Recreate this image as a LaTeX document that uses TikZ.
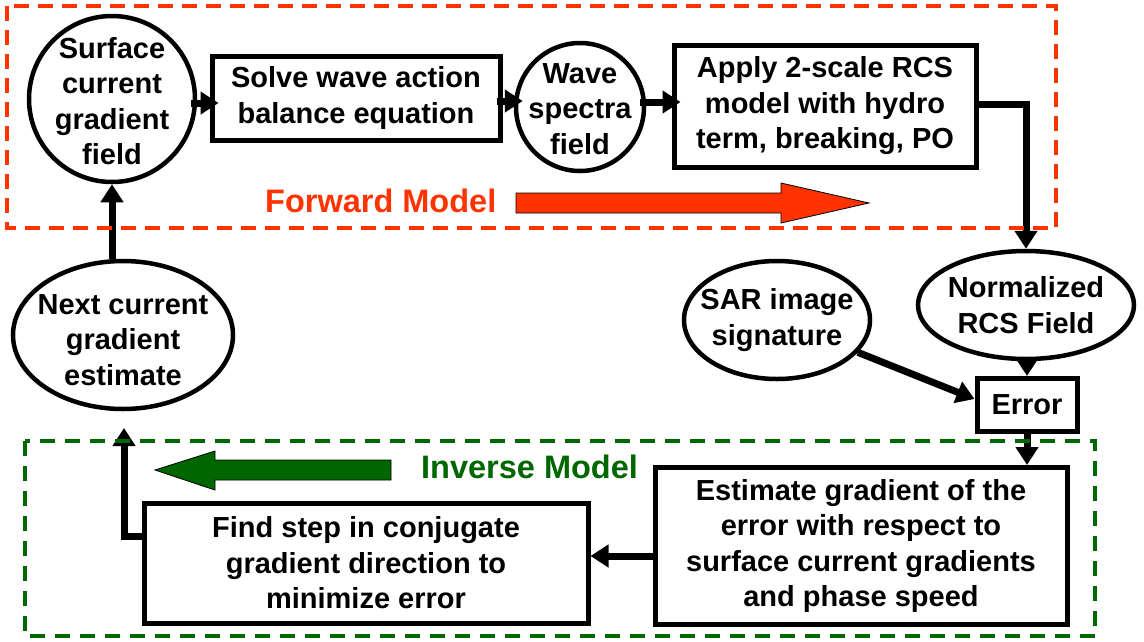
\documentclass[tikz,border=0pt]{standalone}
\usepackage{fontspec}
\setmainfont{Liberation Sans}
\usetikzlibrary{arrows.meta,shapes.geometric,calc}
\definecolor{fwd}{HTML}{FF3300}
\definecolor{inv}{HTML}{006600}
\begin{document}
\begin{tikzpicture}[x=1pt,y=-1pt,
  txt/.style={font=\fontsize{29}{35.5}\selectfont\bfseries, align=center, inner sep=0pt},
  box/.style={draw, line width=5pt, rectangle, inner sep=0pt, txt},
  roundnode/.style={draw, line width=4.5pt, ellipse, inner sep=0pt},
  conn/.style={line width=7pt, -{Triangle[length=18pt,width=22pt]}},
  stub/.style={conn, shorten >=-9pt, shorten <=-6pt},
  modellabel/.style={font=\fontsize{32.5}{38}\selectfont\bfseries, anchor=base west, inner sep=0pt},
  bigarrow/.style={line width=0.8pt, draw=black},
  region/.style={line width=3.5pt, dash pattern=on 15pt off 9pt}
]
\useasboundingbox (0,0) rectangle (1144,641);

% nodes
\node[roundnode, minimum width=166pt, minimum height=166pt] (surf) at (112,99) {};
\node[txt] (surft) at ([yshift=-2pt]surf.center) {Surface\\current\\gradient\\field};
\node[box, minimum width=288pt, minimum height=84pt] (solve) at (356,98) {Solve wave action\\balance equation};
\node[roundnode, minimum width=128pt, minimum height=128pt] (wave) at (580,107) {};
\node[txt] (wavet) at ([yshift=-2pt]wave.center) {Wave\\spectra\\field};
\node[box, minimum width=302pt, minimum height=122pt] (apply) at (825,106) {Apply 2-scale RCS\\model with hydro\\term, breaking, PO};
\node[roundnode, minimum width=216pt, minimum height=108pt] (norm) at (1026,305) {};
\node[txt] (normt) at (norm) {Normalized\\RCS Field};
\node[roundnode, minimum width=186pt, minimum height=118pt] (sar) at (777,320) {};
\node[txt] (sart) at (sar) {SAR image\\signature};
\node[box, minimum width=100pt, minimum height=53pt] (err) at (1027,405) {Error};
\node[box, minimum width=412pt, minimum height=157pt] (est) at (861,546) {Estimate gradient of the\\error with respect to\\surface current gradients\\and phase speed};
\node[box, minimum width=444pt, minimum height=120pt] (find) at (366,563) {Find step in conjugate\\gradient direction to\\minimize error};
\node[roundnode, minimum width=220pt, minimum height=148pt] (next) at (123,335) {};
\node[txt] (nextt) at ([yshift=-5pt]next.center) {Next current\\gradient\\estimate};
\coordinate (upend) at (124,428);

% labels
\node[modellabel, text=fwd] (fl) at (265,212) {Forward Model};
\node[modellabel, text=inv] (il) at (421,478) {Inverse Model};

% big arrows
\draw[bigarrow, fill=fwd] (516,193) -- (781,193) -- (781,183) -- (869,203) -- (781,223) -- (781,213) -- (516,213) -- cycle;
\draw[bigarrow, fill=inv] (391,460) -- (215,460) -- (215,451) -- (155,470) -- (215,490) -- (215,480) -- (391,480) -- cycle;

% connectors
\draw[stub] ([yshift=-4pt]surf.east) -- ([yshift=-4pt]solve.west |- surf.east);
\draw[stub] ([yshift=-3pt]solve.east) -- ([yshift=-3pt]wave.west |- solve.east);
\draw[stub] ([yshift=5pt]wave.east) -- ([yshift=5pt]apply.west |- wave.east);
\draw[conn] ([yshift=2pt]apply.east) -| (norm.north);
\draw[conn] (err.north |- norm.south) -- (err.north);
\draw[conn] (sar) -- ([yshift=6pt]err.west);
\draw[conn] (err.south) -- (est.north -| err.south);
\draw[conn] ([yshift=-10pt]est.west) -- ([yshift=-10pt]est.west -| find.east);
\draw[conn] ([yshift=27pt]find.west) -| (upend);
\draw[conn] (surf.south |- next.north) -- (surf.south);

% dashed regions
\draw[region, fwd] (7,6) rectangle (1056,228);
\draw[region, inv, dash pattern=on 15pt off 10pt] (25,441) rectangle (1095,636);
\end{tikzpicture}
\end{document}
